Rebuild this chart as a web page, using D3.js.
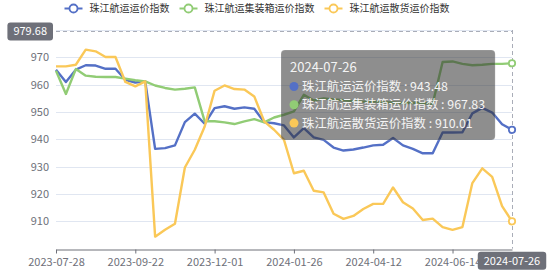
<!DOCTYPE html>
<html>
<head>
<meta charset="utf-8">
<script src="https://cdn.jsdelivr.net/npm/d3@7/dist/d3.min.js"></script>
<style>
  body { margin: 0; background: #fff; }
  svg { display: block; font-family: "Noto Sans CJK SC", "Noto Sans", sans-serif; }
</style>
</head>
<body>
<svg id="chart" width="554" height="275"></svg>
<script>
// weekly dates (holiday weeks missing)
const dates = [
  "2023-07-28", "2023-08-04", "2023-08-11", "2023-08-18", "2023-08-25", "2023-09-01", "2023-09-08", "2023-09-15",
  "2023-09-22", "2023-10-13", "2023-10-20", "2023-10-27", "2023-11-03", "2023-11-10", "2023-11-17", "2023-11-24",
  "2023-12-01", "2023-12-08", "2023-12-15", "2023-12-22", "2023-12-29", "2024-01-05", "2024-01-12", "2024-01-19",
  "2024-01-26", "2024-02-02", "2024-03-01", "2024-03-08", "2024-03-15", "2024-03-22", "2024-03-29", "2024-04-05",
  "2024-04-12", "2024-04-19", "2024-04-26", "2024-05-10", "2024-05-17", "2024-05-24", "2024-05-31", "2024-06-07",
  "2024-06-14", "2024-06-21", "2024-06-28", "2024-07-05", "2024-07-12", "2024-07-19", "2024-07-26"
];

const seriesNames = ["珠江航运运价指数", "珠江航运集装箱运价指数", "珠江航运散货运价指数"];
const seriesColors = ["#5470c6", "#91cc75", "#fac858"];

const freightIndex = [
  965.5, 961.0, 965.5, 967.1, 967.0, 965.8, 965.8, 961.8, 960.8, 961.2,
  936.5, 936.8, 937.8, 946.3, 949.4, 945.7, 951.4, 952.1, 951.2, 951.7,
  951.2, 946.3, 945.9, 945.1, 940.7, 944.1, 940.7, 939.8, 937.0, 935.9,
  936.3, 937.0, 937.8, 938.0, 940.5, 937.8, 936.5, 934.9, 934.9, 942.5,
  942.5, 942.6, 949.5, 951.5, 949.8, 945.5, 943.48
];
const containerIndex = [
  965.1, 956.6, 965.7, 963.3, 962.9, 962.8, 962.8, 962.2, 961.6, 961.2,
  959.7, 958.8, 958.2, 958.5, 959.0, 946.6, 946.6, 946.2, 945.6, 946.6,
  947.4, 946.2, 948.0, 949.0, 950.2, 956.3, 954.2, 955.0, 954.6, 954.3,
  954.0, 953.8, 953.9, 953.6, 953.5, 953.3, 953.4, 953.2, 953.0, 968.3,
  968.5, 967.6, 967.1, 967.3, 967.6, 967.6, 967.83
];
const bulkIndex = [
  966.7, 966.7, 967.3, 972.8, 972.2, 970.1, 970.1, 961.0, 959.4, 961.2,
  904.4, 906.9, 909.1, 929.7, 936.2, 944.7, 957.8, 959.7, 958.4, 958.2,
  955.7, 946.6, 943.5, 939.8, 927.6, 928.5, 921.2, 920.6, 912.8, 910.9,
  912.0, 914.5, 916.4, 916.4, 922.4, 917.0, 914.7, 910.5, 911.0, 907.9,
  906.9, 907.9, 924.0, 929.4, 926.3, 915.6, 910.01
];

const yTicks = [900, 910, 920, 930, 940, 950, 960, 970, 980];
const xLabelEvery = 8;
const hoverDate = "2024-07-26";
const pointerValue = 979.68;

const allSeries = [freightIndex, containerIndex, bulkIndex];

const margin = { top: 30, right: 42, bottom: 26.3, left: 56 };
const W = 554, H = 275;
const svg = d3.select("#chart");

const x = d3.scalePoint().domain(dates).range([margin.left, W - margin.right]);
const y = d3.scaleLinear().domain([900, 980]).range([H - margin.bottom, margin.top]);

// grid lines
svg.append("g")
  .selectAll("line")
  .data(yTicks.slice(1))
  .join("line")
  .attr("x1", margin.left).attr("x2", W - margin.right)
  .attr("y1", d => Math.round(y(d)) + 0.5).attr("y2", d => Math.round(y(d)) + 0.5)
  .attr("stroke", "#E0E6F1");

// y axis labels
svg.append("g")
  .selectAll("text")
  .data(yTicks.slice(1))
  .join("text")
  .attr("x", margin.left - 7)
  .attr("y", d => y(d))
  .attr("dy", "0.35em")
  .attr("text-anchor", "end")
  .attr("font-size", 11)
  .attr("fill", "#6E7079")
  .text(d => d);

// x axis
const xAxis = d3.axisBottom(x)
  .tickValues(dates.filter((d, i) => i % xLabelEvery === 0))
  .tickSize(4)
  .tickSizeOuter(0);

const gx = svg.append("g")
  .attr("transform", `translate(0,${Math.round(y(900)) + 0.5})`)
  .call(xAxis);
gx.select(".domain").attr("stroke", "#6E7079");
gx.selectAll(".tick line").attr("stroke", "#6E7079");
gx.selectAll(".tick text")
  .attr("fill", "#6E7079")
  .attr("font-size", 11)
  .attr("font-family", "\"Noto Sans CJK SC\", \"Noto Sans\", sans-serif")
  .attr("dy", "0.9em");

// crosshair
const px = x(hoverDate);
svg.append("line")
  .attr("x1", Math.round(px) + 0.5).attr("x2", Math.round(px) + 0.5)
  .attr("y1", margin.top).attr("y2", y(900))
  .attr("stroke", "#a9adb8").attr("stroke-dasharray", "4,3");
svg.append("line")
  .attr("x1", margin.left).attr("x2", W - margin.right)
  .attr("y1", Math.round(y(pointerValue)) + 0.5).attr("y2", Math.round(y(pointerValue)) + 0.5)
  .attr("stroke", "#a9adb8").attr("stroke-dasharray", "4,3");

// lines
const line = d3.line()
  .x((d, i) => x(dates[i]))
  .y(d => y(d));

allSeries.forEach((vals, k) => {
  svg.append("path")
    .datum(vals)
    .attr("fill", "none")
    .attr("stroke", seriesColors[k])
    .attr("stroke-width", 2.4)
    .attr("stroke-linejoin", "round")
    .attr("d", line);
});

// hovered points
const hi = dates.indexOf(hoverDate);
allSeries.forEach((vals, k) => {
  svg.append("circle")
    .attr("cx", x(hoverDate)).attr("cy", y(vals[hi]))
    .attr("r", 3.2)
    .attr("fill", "#fff")
    .attr("stroke", seriesColors[k])
    .attr("stroke-width", 1.8);
});

// legend
const legend = svg.append("g").attr("font-size", 10).attr("fill", "#333");
const items = legend.selectAll("g").data(seriesNames).join("g");
items.append("line")
  .attr("x1", 0).attr("x2", 18).attr("y1", 8.5).attr("y2", 8.5)
  .attr("stroke", (d, i) => seriesColors[i]).attr("stroke-width", 2);
items.append("circle")
  .attr("cx", 9).attr("cy", 8.5).attr("r", 4)
  .attr("fill", "#fff")
  .attr("stroke", (d, i) => seriesColors[i]).attr("stroke-width", 1.8);
items.append("text")
  .attr("x", 25).attr("y", 8.5).attr("dy", "0.35em")
  .text(d => d);
let offset = 0;
items.each(function () {
  const g = d3.select(this);
  g.attr("transform", `translate(${offset},0)`);
  offset += 25 + g.select("text").node().getComputedTextLength() + 10;
});
const legendW = offset - 10;
legend.attr("transform", `translate(${257 - legendW / 2},0)`);

// axis pointer labels
function pointerLabel(txt, cx, cy, anchor) {
  const g = svg.append("g");
  const t = g.append("text")
    .attr("font-size", 11)
    .attr("fill", "#fff")
    .attr("dy", "0.35em")
    .text(txt);
  const w = t.node().getComputedTextLength() + 12;
  const left = anchor === "end" ? cx - w : cx - w / 2;
  g.insert("rect", "text")
    .attr("x", left).attr("y", cy - 9)
    .attr("width", w).attr("height", 18)
    .attr("rx", 3)
    .attr("fill", "#6E7079");
  t.attr("x", left + 6).attr("y", cy);
}
pointerLabel(d3.format(".2f")(pointerValue), margin.left - 3, y(pointerValue) + 0.6, "end");
pointerLabel(hoverDate, px, y(900) + 12, "middle");

// tooltip
const tip = svg.append("g").attr("transform", "translate(281,50)");
const tipBg = tip.append("rect")
  .attr("rx", 4)
  .attr("fill", "rgba(50,50,50,0.55)")
  .attr("stroke", "rgba(255,255,255,0.3)")
  .attr("stroke-width", 0.5);
tip.append("text")
  .attr("x", 9).attr("y", 22)
  .attr("font-size", 13)
  .attr("fill", "#f4f4f4")
  .text(hoverDate);
const rows = tip.selectAll("g.row").data(seriesNames).join("g")
  .attr("class", "row")
  .attr("transform", (d, i) => `translate(0,${36.5 + i * 18.3})`);
rows.append("circle")
  .attr("cx", 13).attr("cy", 0).attr("r", 4.5)
  .attr("fill", (d, i) => seriesColors[i]);
rows.append("text")
  .attr("x", 21).attr("dy", "0.36em")
  .attr("font-size", 12.4)
  .attr("fill", "#f4f4f4")
  .text((d, i) => `${d} : ${d3.format(".2f")(allSeries[i][hi])}`);
let tipW = 0;
rows.selectAll("text").each(function () {
  tipW = Math.max(tipW, this.getComputedTextLength());
});
tipBg.attr("width", tipW + 31).attr("height", 90);
</script>
</body>
</html>
